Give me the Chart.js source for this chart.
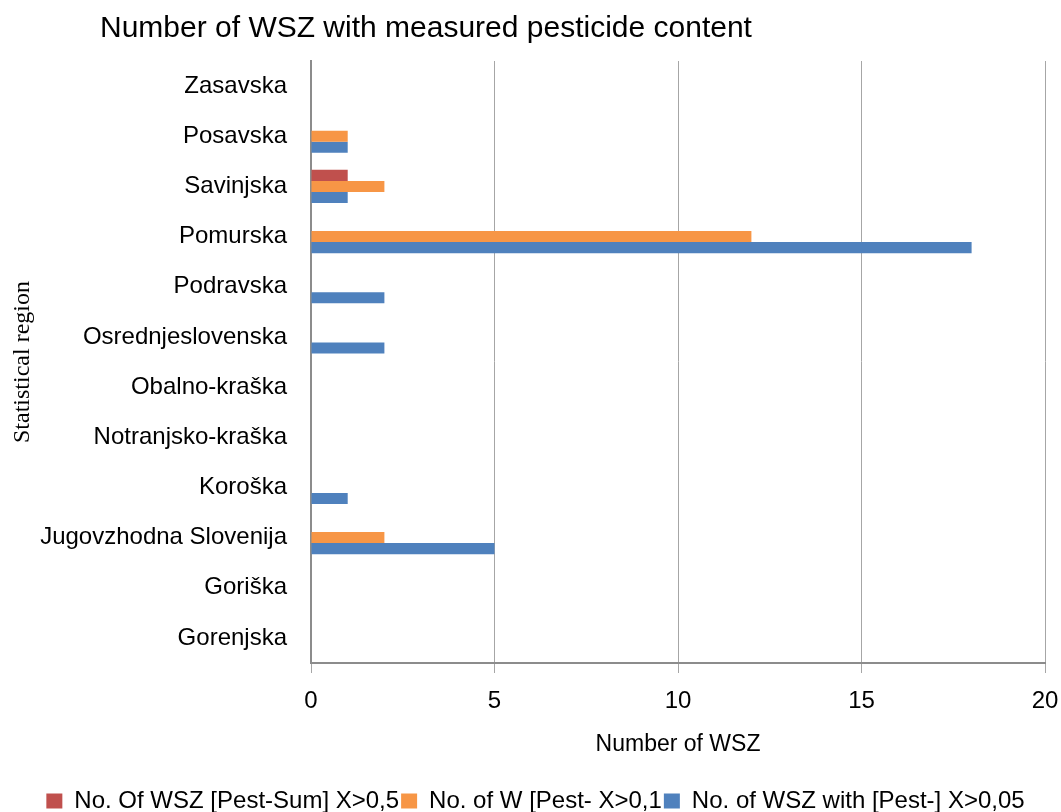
<!DOCTYPE html>
<html>
<head>
<meta charset="utf-8">
<script src="https://cdn.jsdelivr.net/npm/chart.js@4.4.1/dist/chart.umd.min.js"></script>
<style>
  html, body { margin: 0; padding: 0; background: #ffffff; }
  #wrap { width: 1061px; height: 812px; }
</style>
</head>
<body>
<div id="wrap"><canvas id="c" width="1061" height="812"></canvas></div>
<script>
const chartTitle = 'Number of WSZ with measured pesticide content';
const regions = ['Zasavska', 'Posavska', 'Savinjska', 'Pomurska', 'Podravska', 'Osrednjeslovenska',
  'Obalno-kraška', 'Notranjsko-kraška', 'Koroška', 'Jugovzhodna Slovenija', 'Goriška', 'Gorenjska'];
const seriesNames = ['No. Of WSZ [Pest-Sum] X>0,5', 'No. of W [Pest- X>0,1', 'No. of WSZ with [Pest-] X>0,05'];
const pestSum05 = [0, 0, 1, 0, 0, 0, 0, 0, 0, 0, 0, 0];
const pest01    = [0, 1, 2, 12, 0, 0, 0, 0, 0, 2, 0, 0];
const pest005   = [0, 1, 1, 18, 2, 2, 0, 0, 1, 5, 0, 0];
const xTicks = [0, 5, 10, 15, 20];
const xAxisTitle = 'Number of WSZ';
const yAxisTitle = 'Statistical region';

const FONT = "'Liberation Sans', Arial, sans-serif";
const PLOT_TOP = 61, PLOT_BOTTOM = 663, PLOT_LEFT = 311;

const titlePlugin = {
  id: 'leftTitle',
  afterDraw(chart) {
    const ctx = chart.ctx;
    ctx.save();
    ctx.font = "30px " + FONT;
    ctx.fillStyle = '#000000';
    ctx.textBaseline = 'middle';
    ctx.textAlign = 'left';
    ctx.fillText(chartTitle, 100, 29);
    ctx.restore();
  }
};

const legendShift = {
  id: 'legendShift',
  afterLayout(chart) {
    const lg = chart.legend;
    if (lg) {
      const h = lg.bottom - lg.top;
      const d = 805 - (lg.top + h / 2);
      lg.top += d; lg.bottom += d;
      lg.left += 9; lg.right += 9;
    }
  }
};

new Chart(document.getElementById('c'), {
  type: 'bar',
  data: {
    labels: regions,
    datasets: [
      { label: seriesNames[0], data: pestSum05, backgroundColor: '#C0504D' },
      { label: seriesNames[1], data: pest01, backgroundColor: '#F79646' },
      { label: seriesNames[2], data: pest005, backgroundColor: '#4F81BD' }
    ]
  },
  options: {
    indexAxis: 'y',
    responsive: false,
    animation: false,
    devicePixelRatio: 1,
    categoryPercentage: 0.66,
    barPercentage: 1.0,
    layout: { padding: { top: PLOT_TOP, left: 8, right: 16, bottom: 2 } },
    plugins: {
      title: { display: false },
      tooltip: { enabled: false },
      legend: {
        position: 'bottom',
        labels: {
          font: { family: FONT, size: 24 },
          color: '#000000',
          boxWidth: 16,
          boxHeight: 15,
          padding: 2
        }
      }
    },
    scales: {
      x: {
        min: 0, max: 20,
        afterBuildTicks(scale) { scale.ticks = xTicks.map(v => ({ value: v })); },
        afterFit(scale) {
          scale.paddingRight = 0;
          const lg = scale.chart.legend;
          const lgH = lg ? (lg.height || 0) : 0;
          scale.height = 812 - 2 - lgH - PLOT_BOTTOM;
        },
        ticks: { font: { family: FONT, size: 24 }, color: '#000000', padding: 14 },
        grid: { color: '#a6a6a6', lineWidth: 1, tickLength: 10, tickColor: '#a6a6a6' },
        border: { color: '#8c8c8c', width: 2 },
        title: { display: true, text: xAxisTitle, font: { family: FONT, size: 23 }, color: '#000000', padding: { top: 4, bottom: 16 } }
      },
      y: {
        afterFit(scale) { scale.width = PLOT_LEFT - 8; },
        ticks: { font: { family: FONT, size: 24 }, color: '#000000', padding: 24 },
        grid: { color: 'rgba(0,0,0,0)', drawTicks: false },
        border: { color: '#8c8c8c', width: 2 },
        title: { display: true, text: yAxisTitle, font: { family: "'Liberation Serif', 'Times New Roman', serif", size: 24 }, color: '#000000', padding: 0 }
      }
    }
  },
  plugins: [titlePlugin, legendShift]
});
</script>
</body>
</html>
